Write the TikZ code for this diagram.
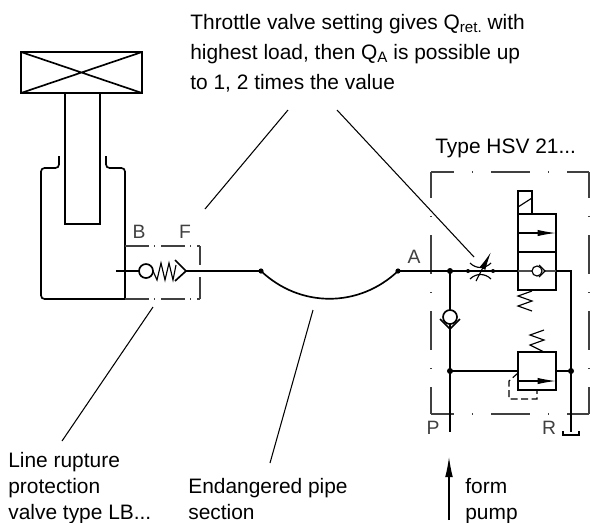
\documentclass[tikz,border=0pt]{standalone}
\usepackage{fontspec}
\setmainfont{Liberation Sans}
\usetikzlibrary{arrows.meta}
\newcommand{\lowsub}[1]{\raisebox{-2.2pt}{\fontsize{8.6pt}{8.6pt}\selectfont #1}}
\tikzset{
	pipe/.style = {line width = 0.95pt},
	thinpipe/.style = {line width = 0.65pt},
	bigbox/.style = {line width = 0.75pt, black!75, dash pattern = on 22.2pt off 10.2pt on 0.7pt off 10.2pt},
	smallbox/.style = {line width = 0.75pt, black!75, dash pattern = on 13.7pt off 2.8pt on 0.7pt off 3.4pt},
	leader/.style = {line width = 0.6pt},
	txt/.style = {anchor = base west, align = left, inner sep = 0pt, font = \fontsize{11.9pt}{17.07pt}\selectfont},
	lowtxt/.style = {txt, font = \fontsize{11.9pt}{14.8pt}\selectfont},
	port/.style = {anchor = base, inner sep = 0pt, black!75, font = \fontsize{11pt}{12pt}\selectfont},
	tip/.style = {-{Latex[length = 10.5pt, width = 3.6pt]}},
	flowtip/.style = {-{Latex[length = 11.5pt, width = 4.4pt]}, line width = 0.6pt}
}
\begin{document}
\begin{tikzpicture}[x = 0.02cm, y = -0.02cm]
	\useasboundingbox (0, 0) rectangle (590, 522);

	% texts
	\node[txt](throttletxt) at (190, 89){Throttle valve setting gives Q\lowsub{ret.} with\\highest load, then Q\lowsub{A} is possible up\\to 1, 2 times the value};
	\node[txt](typetxt) at (435, 153){Type HSV 21...};
	\node[lowtxt](linetxt) at (8, 519){Line rupture\\protection\\valve type LB...};
	\node[lowtxt](pipetxt) at (188, 519){Endangered pipe\\section};
	\node[lowtxt](pumptxt) at (465, 519){form\\pump};
	\node[port](portb) at (139, 238){B};
	\node[port](portf) at (185, 238){F};
	\node[port](porta) at (414, 263){A};
	\node[port](portp) at (433, 434){P};
	\node[port](portr) at (549, 434){R};

	% cylinder
	\draw[pipe] (21, 52) rectangle (142, 93);
	\draw[pipe] (21, 52)--(142, 93) (21, 93)--(142, 52);
	\draw[pipe] (65, 93)--(65, 224)--(100, 224)--(100, 93);
	\draw[pipe, rounded corners = 2pt] (125, 299)--(41, 299)--(41, 168)--(59, 168)--(59, 156);
	\draw[pipe, rounded corners = 2pt] (125, 299)--(125, 168)--(106, 168)--(106, 156);

	% line rupture valve
	\draw[smallbox] (125, 246)--(200, 246);
	\draw[smallbox] (125, 299)--(200, 299);
	\draw[smallbox, dash phase = 2.8pt] (200, 246)--(200, 299);
	\coordinate[](stub) at (116, 271);
	\coordinate[](ball) at (146, 271);
	\coordinate[](seat) at (186, 271);
	\coordinate[](pipea) at (261, 271);
	\coordinate[](pipeb) at (398, 271);
	\draw[pipe] (stub)--(139, 271);
	\draw[pipe] (ball) circle[radius = 7];
	\draw[thinpipe] (153, 271)--(157, 280)--(161, 263)--(165, 280)--(169, 263)--(173, 280)--(176, 265);
	\draw[pipe] (175, 260)--(seat)--(175, 281);

	% pipe section
	\draw[pipe] (seat)--(pipea);
	\draw[pipe] (pipea) .. controls (300, 308) and (359, 308) .. (pipeb);
	\fill (pipea) circle[radius = 2.6];
	\fill (pipeb) circle[radius = 2.6];

	% valve block
	\draw[bigbox, dash phase = 9.1pt] (431, 172)--(589, 172);
	\draw[bigbox, dash phase = 9.1pt] (431, 414)--(589, 414);
	\draw[bigbox, dash phase = 7.4pt] (431, 172)--(431, 414);
	\draw[bigbox, dash phase = 7.4pt] (589, 172)--(589, 414);

	\coordinate[](nodea) at (450, 271);
	\coordinate[](nodeb) at (450, 371);
	\coordinate[](nodec) at (571, 371);
	\coordinate[](thra) at (468, 271);
	\coordinate[](thrb) at (493, 271);

	\draw[pipe] (pipeb)--(518, 271);
	\draw[pipe] (nodea)--(450, 432);
	\draw[pipe] (556, 271)--(571, 271)--(571, 432);
	\draw[pipe] (563, 431)--(563, 435)--(579, 435)--(579, 431);
	\draw[pipe] (nodeb)--(518, 371);
	\draw[pipe] (556, 371)--(nodec);
	\fill (nodea) circle[radius = 3];
	\fill (nodeb) circle[radius = 3];
	\fill (nodec) circle[radius = 3];
	\fill (thra) circle[radius = 2];
	\fill (thrb) circle[radius = 2];

	% throttle
	\draw[thinpipe] (470, 263) .. controls (476, 269) and (485, 269) .. (491, 263);
	\draw[thinpipe] (470, 279) .. controls (476, 273) and (485, 273) .. (491, 279);
	\draw[thinpipe, tip] (476, 281)--(491, 252);

	% check valve
	\draw[pipe, fill = white] (450, 317) circle[radius = 7];
	\draw[pipe] (440, 319)--(450, 329)--(460, 319);

	% directional valve
	\draw[pipe] (518, 191) rectangle (532, 214);
	\draw[thinpipe] (518, 207)--(532, 198);
	\draw[pipe] (518, 214) rectangle (556, 290);
	\draw[pipe] (518, 252)--(556, 252);
	\draw[thinpipe, tip] (518, 233)--(556, 233);
	\draw[thinpipe, black!70] (518, 271)--(532, 271) (545, 271)--(556, 271);
	\draw[thinpipe] (537, 271) circle[radius = 5];
	\draw[thinpipe] (539, 265)--(545, 271)--(539, 277);
	\draw[thinpipe] (532, 291)--(518, 296)--(532, 301)--(518, 306)--(532, 311);

	% relief valve
	\draw[pipe] (518, 352) rectangle (556, 390);
	\draw[thinpipe, tip] (518, 381)--(556, 381);
	\draw[thinpipe] (544, 330)--(530, 335)--(544, 340)--(530, 345)--(544, 352);
	\draw[thinpipe, dash pattern = on 4pt off 2pt] (518, 373)--(509, 381)--(509, 399)--(537, 399)--(537, 390);

	% leaders and flow arrow
	\draw[leader] (288, 110)--(205, 209);
	\draw[leader] (337, 110)--(474, 257);
	\draw[leader] (153, 307)--(62, 441);
	\draw[leader] (313, 310)--(270, 463);
	\draw[flowtip] (449, 520)--(449, 457);
\end{tikzpicture}
\end{document}
